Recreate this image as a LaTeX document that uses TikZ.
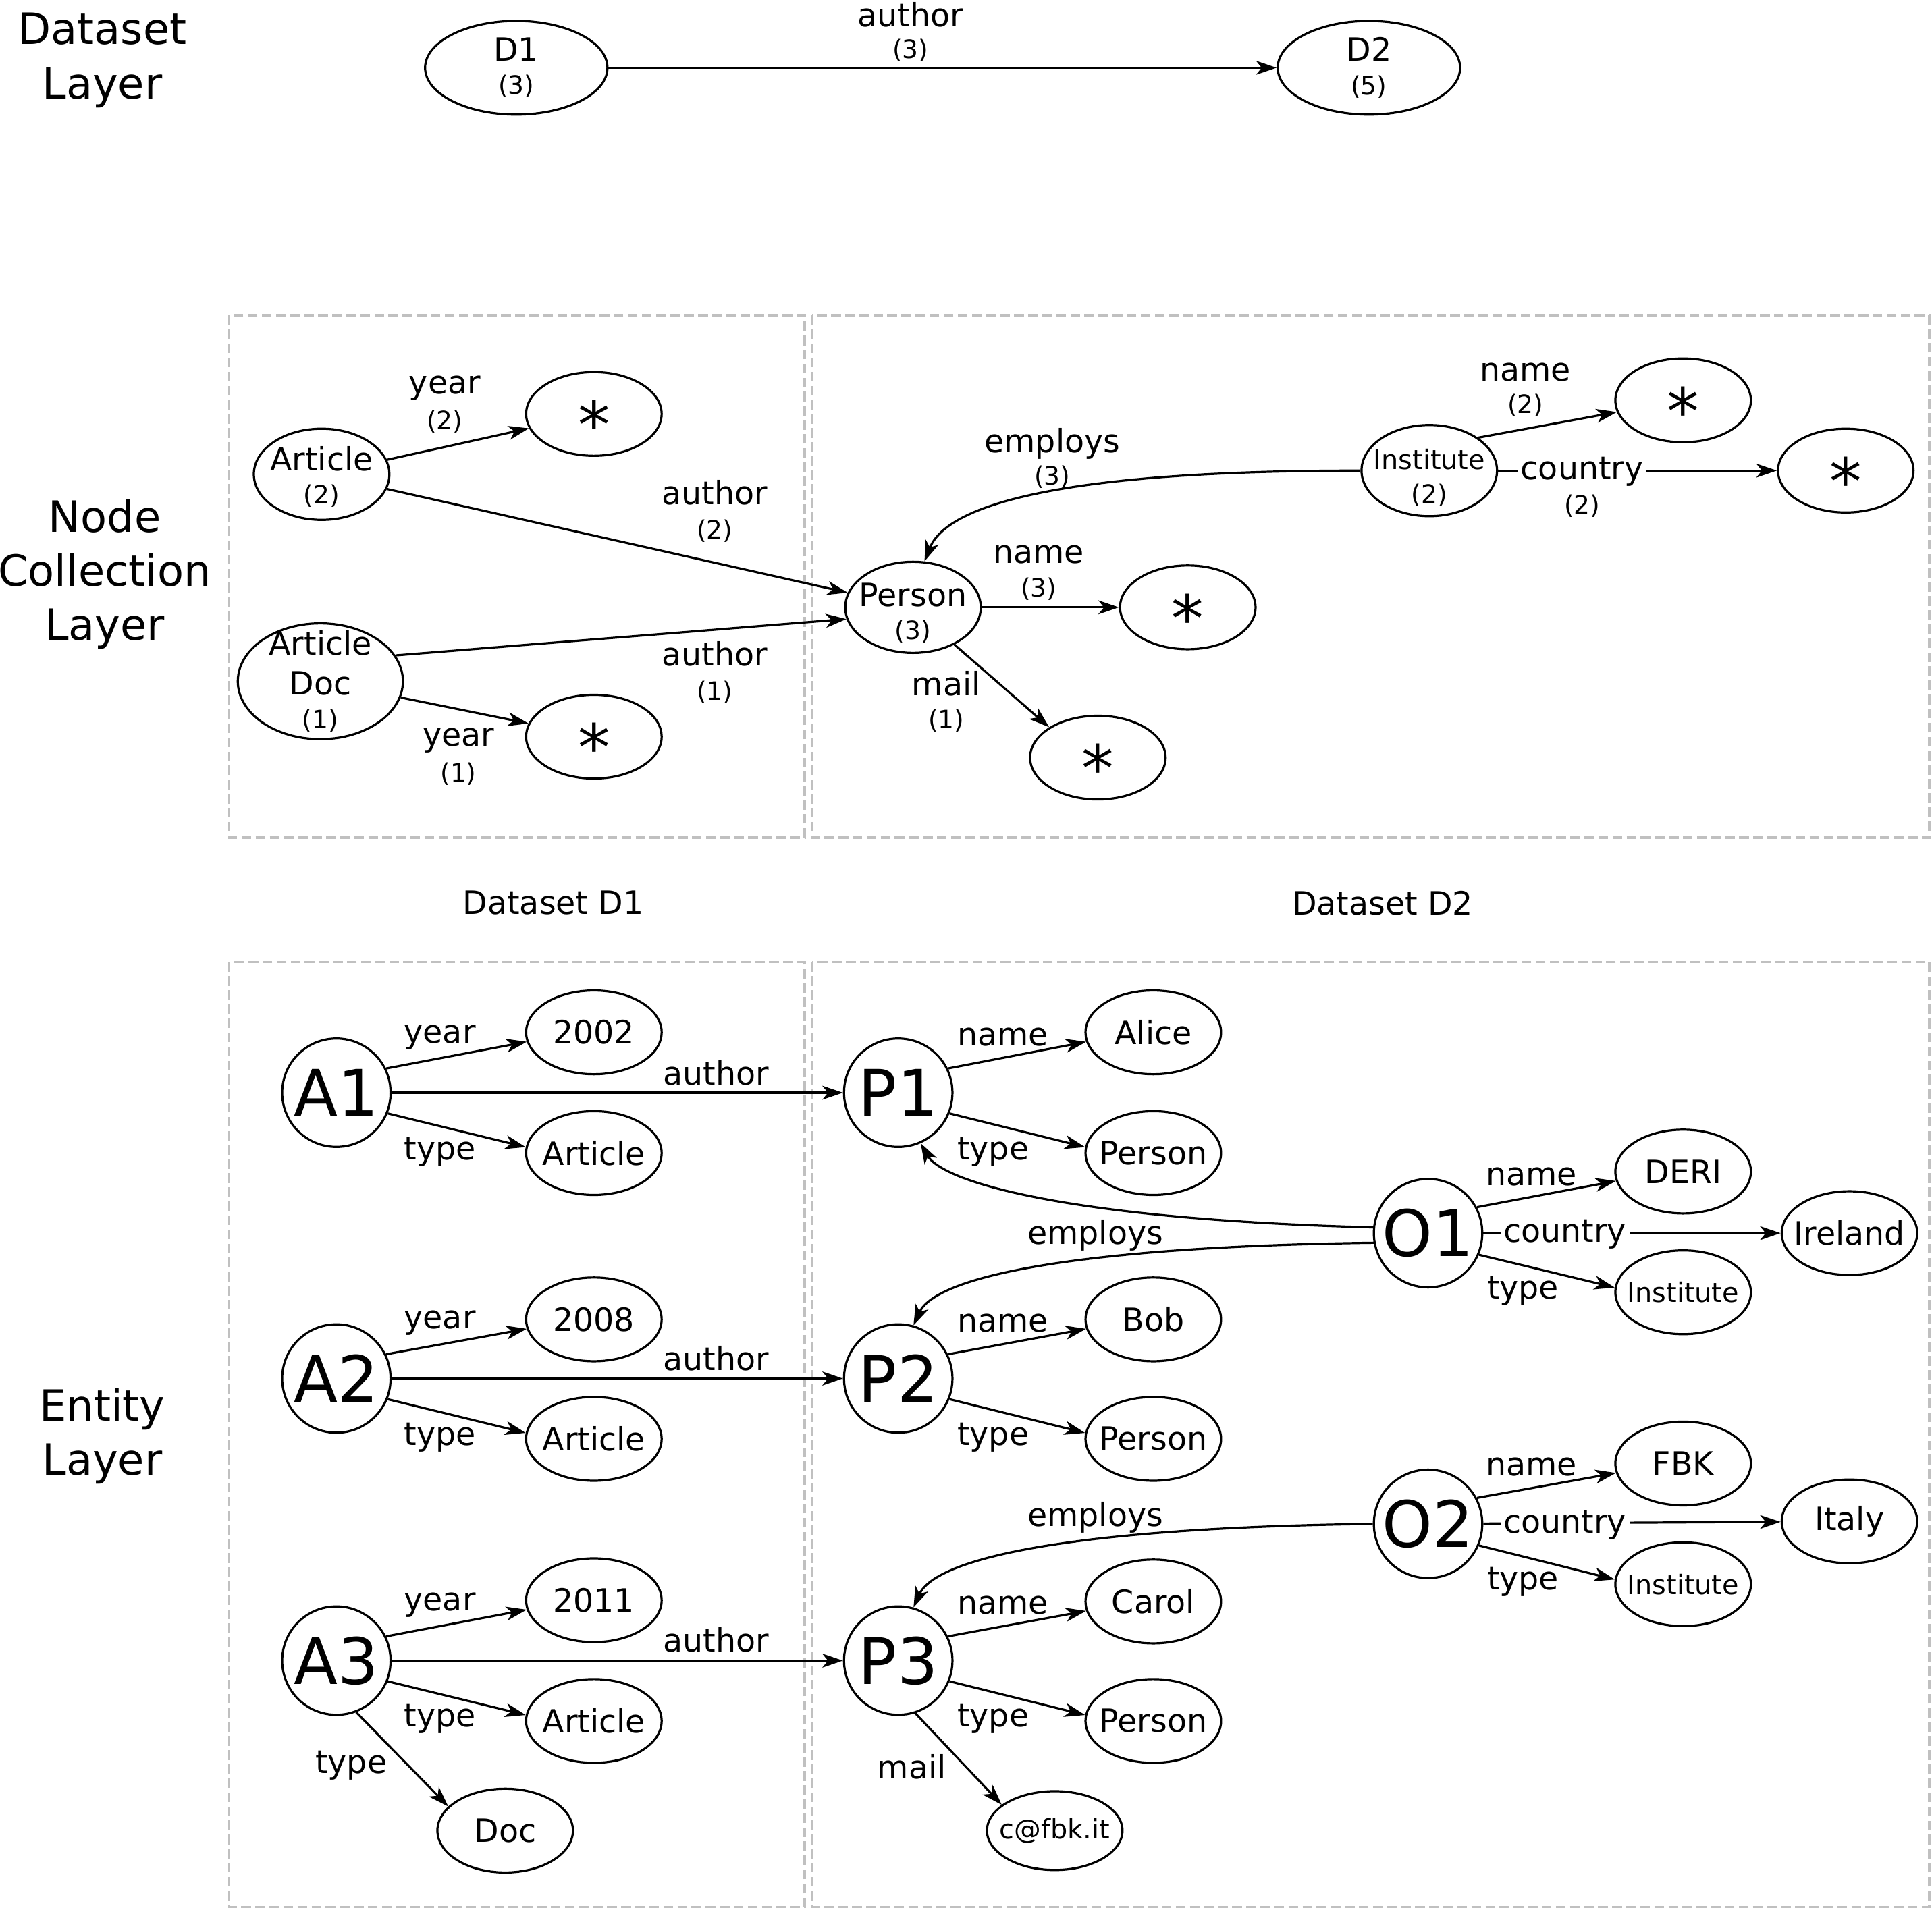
\documentclass[tikz,border=0pt]{standalone}
\usepackage{fontspec}
\setmainfont{DejaVu Sans}
\usetikzlibrary{arrows.meta,shapes.geometric}
\definecolor{boxgray}{RGB}{192,192,192}
\newcommand\fMain{\fontsize{14.8pt}{15.4pt}\selectfont}
\newcommand\fNum{\fontsize{11.7pt}{15.4pt}\selectfont}
\newcommand\fSmall{\fontsize{12.4pt}{15.4pt}\selectfont}
\newcommand\fLayer{\fontsize{19.9pt}{25pt}\selectfont}
\newcommand\fBig{\fontsize{29.6pt}{30pt}\selectfont}
\newcommand\starmark{{\fBig\raisebox{-0.53em}[0pt][0pt]{*}}}
% invisible strut that lowers the text block of a two-line node
\newcommand\lowerby[1]{\rule{0pt}{#1}}
\begin{document}
\begin{tikzpicture}[x=0.2mm,y=-0.2mm,
  ell/.style={draw, ellipse, line width=1pt, inner xsep=-14pt, inner ysep=-8pt, minimum width=22mm, minimum height=13.6mm, align=center, font=\fMain},
  tall/.style={minimum height=14.8mm},
  circ/.style={draw, circle, line width=1pt, inner sep=0pt, minimum size=17.6mm, font=\fBig},
  arr/.style={line width=1pt, -{Stealth[length=9.5pt,width=6.4pt,inset=2.6pt]}},
  lab/.style={font=\fMain, inner sep=1pt},
  num/.style={font=\fNum, inner sep=1pt},
  onl/.style={font=\fMain, fill=white, inner sep=1.5pt},
  box/.style={draw=boxgray, line width=1.2pt, dash pattern=on 4.5pt off 2pt},
  layer/.style={font=\fLayer, align=center, inner sep=0pt},
]
\useasboundingbox (0,0) rectangle (1568,1550);

% ---------------- layer titles ----------------
\node[layer] (ldl) at (83,49) {Dataset\\Layer};
\node[layer] (lnc) at (85,466) {Node\\Collection\\Layer};
\node[layer] (lel) at (83,1166) {Entity\\Layer};
\node[lab] (dsa) at (449,733) {Dataset D1};
\node[lab] (dsb) at (1122,733) {Dataset D2};

% ---------------- dataset frames ----------------
\draw[box] (186,256) rectangle (653,680);
\draw[box] (659,256) rectangle (1566,680);
\draw[box] (186,781) rectangle (653,1548);
\draw[box] (659,781) rectangle (1566,1548);

% ---------------- dataset layer ----------------
\node[ell, minimum width=29.6mm, minimum height=15.2mm] (d1) at (419,55) {D1\\{\fNum (3)}};
\node[ell, minimum width=29.6mm, minimum height=15.2mm] (d2) at (1111,55) {D2\\{\fNum (5)}};
\draw[arr] (d1) -- (d2) node[lab] at (739,12) {author} node[num] at (739,41) {(3)};

% ---------------- node collection layer ----------------
\node[ell, tall] (art) at (261,385) {\lowerby{13.5pt}Article\\{\fNum (2)}};
\node[ell] (s1) at (482,336) {\starmark};
\node[ell, minimum width=26.8mm, minimum height=18.8mm] (adoc) at (260,553) {Article\\[3pt]Doc\\{\fNum (1)}};
\node[ell] (s2) at (482,598) {\starmark};
\node[ell, tall] (per) at (741,493) {\lowerby{15.8pt}Person\\{\fNum (3)}};
\node[ell] (sp) at (964,493) {\starmark};
\node[ell] (sm) at (891,615) {\starmark};
\node[ell, tall] (inst) at (1160,382) {\lowerby{16pt}{\fSmall Institute}\\{\fNum (2)}};
\node[ell] (sn) at (1366,325) {\starmark};
\node[ell] (sc) at (1498,382) {\starmark};

\draw[arr] (art) -- (s1) node[lab] at (361,315) {year} node[num] at (361,342) {(2)};
\draw[arr] (art) -- (per) node[lab] at (580,400) {author} node[num] at (580,431) {(2)};
\draw[arr] (adoc.19) -- (per.190) node[lab] at (580,531) {author} node[num] at (580,562) {(1)};
\draw[arr] (adoc) -- (s2) node[lab] at (372,601) {year} node[num] at (372,628) {(1)};
\draw[arr] (per) -- (sp) node[lab] at (843,450) {name} node[num] at (843,478) {(3)};
\draw[arr] (per.-42) -- (sm.148) node[lab] at (768,555) {mail} node[num] at (768,585) {(1)};
\draw[arr] (inst.34) -- (sn.190) node[lab] at (1238,302) {name} node[num] at (1238,329) {(2)};
\draw[arr] (inst) -- (sc) node[onl] at (1284,383) {country} node[num] at (1284,411) {(2)};
\draw[arr] (inst.west) .. controls (855,382) and (768,411) .. (per.76)
  node[lab] at (854,360) {employs} node[num] at (854,387) {(3)};

% ---------------- entity layer ----------------
\node[circ] (a1) at (273,887) {A1};
\node[ell] (y1) at (482,838) {2002};
\node[ell] (t1) at (482,936) {Article};
\node[circ] (p1) at (729,887) {P1};
\node[ell] (n1) at (936,838) {Alice};
\node[ell] (pt1) at (936,936) {Person};

\node[circ] (o1) at (1159,1001) {O1};
\node[ell] (on1) at (1366,951) {DERI};
\node[ell] (oc1) at (1501,1001) {Ireland};
\node[ell, font=\fSmall] (ot1) at (1366,1049) {Institute};

\node[circ] (a2) at (273,1119) {A2};
\node[ell] (y2) at (482,1071) {2008};
\node[ell] (t2) at (482,1168) {Article};
\node[circ] (p2) at (729,1119) {P2};
\node[ell] (n2) at (936,1071) {Bob};
\node[ell] (pt2) at (936,1168) {Person};

\node[circ] (o2) at (1159,1237) {O2};
\node[ell] (on2) at (1366,1188) {FBK};
\node[ell] (oc2) at (1501,1235) {Italy};
\node[ell, font=\fSmall] (ot2) at (1366,1286) {Institute};

\node[circ] (a3) at (273,1348) {A3};
\node[ell] (y3) at (482,1299) {2011};
\node[ell] (t3) at (482,1397) {Article};
\node[ell] (d3) at (410,1486) {Doc};
\node[circ] (p3) at (729,1348) {P3};
\node[ell] (n3) at (936,1300) {Carol};
\node[ell] (pt3) at (936,1397) {Person};
\node[ell, font=\fSmall, minimum height=12.8mm] (m3) at (856,1486) {c@fbk.it};

% row 1
\draw[arr] (a1.26) -- (y1.188) node[lab] at (357,842) {year};
\draw[arr] (a1.-22) -- (t1.175) node[lab] at (357,935) {type};
\draw[arr] (a1) -- (p1) node[lab] at (581,871) {author};
\draw[arr] (p1.26) -- (n1.188) node[lab] at (814,842) {name};
\draw[arr] (p1.-22) -- (pt1.175) node[lab] at (806,935) {type};

% organisation 1
\draw[arr] (o1.28) -- (on1.188) node[lab] at (1243,955) {name};
\draw[arr] (o1) -- (oc1) node[onl] at (1270,1002) {country};
\draw[arr] (o1.-23) -- (ot1.176) node[lab] at (1236,1048) {type};
\draw[arr] (o1.174) .. controls (870,990) and (765,960) .. (p1.-66);
\draw[arr] (o1.190) .. controls (880,1012) and (760,1035) .. (p2.74)
  node[lab] at (889,1003) {employs};

% row 2
\draw[arr] (a2.26) -- (y2.188) node[lab] at (357,1074) {year};
\draw[arr] (a2.-22) -- (t2.175) node[lab] at (357,1167) {type};
\draw[arr] (a2) -- (p2) node[lab] at (581,1103) {author};
\draw[arr] (p2.26) -- (n2.188) node[lab] at (814,1074) {name};
\draw[arr] (p2.-22) -- (pt2.175) node[lab] at (806,1167) {type};

% organisation 2
\draw[arr] (o2.28) -- (on2.188) node[lab] at (1243,1191) {name};
\draw[arr] (o2) -- (oc2) node[onl] at (1270,1238) {country};
\draw[arr] (o2.-23) -- (ot2.176) node[lab] at (1236,1284) {type};
\draw[arr] (o2.west) .. controls (880,1240) and (760,1263) .. (p3.74)
  node[lab] at (889,1232) {employs};

% row 3
\draw[arr] (a3.26) -- (y3.188) node[lab] at (357,1303) {year};
\draw[arr] (a3.-22) -- (t3.175) node[lab] at (357,1395) {type};
\draw[arr] (a3.-69) -- (d3.157) node[lab] at (285,1433) {type};
\draw[arr] (a3) -- (p3) node[lab] at (581,1331) {author};
\draw[arr] (p3.26) -- (n3.188) node[lab] at (814,1303) {name};
\draw[arr] (p3.-22) -- (pt3.175) node[lab] at (806,1395) {type};
\draw[arr] (p3.-72) -- (m3.154) node[lab] at (740,1434) {mail};
\end{tikzpicture}
\end{document}
